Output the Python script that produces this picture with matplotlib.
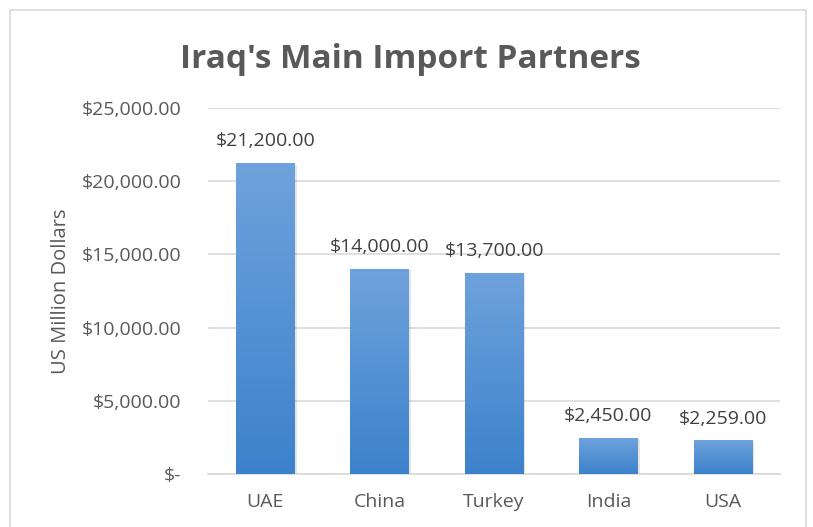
import matplotlib
matplotlib.use("Agg")
import matplotlib.pyplot as plt
import numpy as np
from matplotlib.colors import LinearSegmentedColormap
from matplotlib.patches import Rectangle

categories = ["UAE", "China", "Turkey", "India", "USA"]
values = [21200.00, 14000.00, 13700.00, 2450.00, 2259.00]
yticks = [0, 5000, 10000, 15000, 20000, 25000]
ytick_labels = ["$-", "$5,000.00", "$10,000.00", "$15,000.00", "$20,000.00", "$25,000.00"]
title = "Iraq's Main Import Partners"
ylabel = "US Million Dollars"

plt.rcParams['font.family'] = ['Open Sans', 'DejaVu Sans']
gray = "#595959"

fig = plt.figure(figsize=(8.13, 5.27), dpi=100)
# outer chart border
fig.patches.append(Rectangle((10/813, -0.05), (806-10)/813, 1.05 - 10/527,
                             transform=fig.transFigure, fill=False,
                             edgecolor="#d9d9d9", linewidth=1.2))

ax = fig.add_axes([208/813, 1 - 474/527, (780-208)/813, (474-108)/527])
x = np.arange(len(categories))
bars = ax.bar(x, values, width=0.51, color="none", zorder=3)

cmap = LinearSegmentedColormap.from_list("g", ["#3c82cb", "#6ea2dc"])
grad = np.linspace(0, 1, 256).reshape(-1, 1)
for b in bars:
    bx, by, bw, bh = b.get_x(), b.get_y(), b.get_width(), b.get_height()
    # soft shadow
    ax.add_patch(Rectangle((bx + 0.02, by), bw, bh - 60, facecolor="#000000",
                           alpha=0.10, edgecolor="none", zorder=2.5))
    ax.imshow(grad, cmap=cmap, origin="lower", aspect="auto",
              extent=(bx, bx + bw, by, by + bh), zorder=3, interpolation="bilinear")

for xi, v in zip(x, values):
    ax.text(xi, v + 900, f"${v:,.2f}", ha="center", va="bottom",
            fontsize=14, color="#404040", zorder=4)

ax.set_xlim(-0.5, len(categories) - 0.5)
ax.set_ylim(0, 25000)
ax.set_yticks(yticks)
ax.set_yticklabels(ytick_labels)
ax.set_xticks(x)
ax.set_xticklabels(categories)
ax.tick_params(axis="both", length=0, labelsize=14, labelcolor=gray)
ax.tick_params(axis="y", pad=19)
ax.tick_params(axis="x", pad=14)
ax.yaxis.grid(True, color="#d9d9d9", linewidth=1.2, zorder=0)
ax.set_axisbelow(True)
for s in ["top", "right", "left"]:
    ax.spines[s].set_visible(False)
ax.spines["bottom"].set_color("#d9d9d9")
ax.spines["bottom"].set_linewidth(1.2)

ax.set_ylabel(ylabel, fontsize=14.5, color=gray, labelpad=8)
fig.text(410/813, 1 - 59/527, title, ha="center", va="center",
         fontsize=24, fontweight="bold", color=gray)

fig.savefig("out.png", dpi=100)
